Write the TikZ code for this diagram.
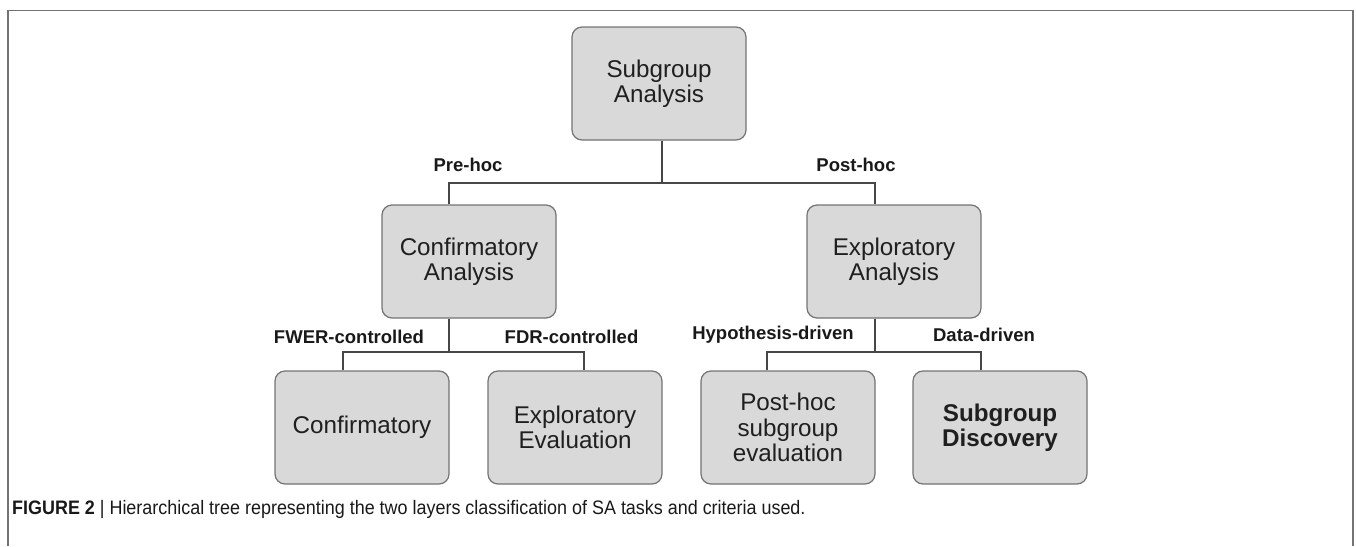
\documentclass[tikz,border=0pt]{standalone}
\usepackage{fontspec}
\setmainfont{Liberation Sans}
\newfontfamily\capfont[FakeStretch=0.92]{Liberation Sans}
\begin{document}
\begin{tikzpicture}[x=1pt,y=-1pt,
  box/.style={draw=black!55,line width=1.2pt,fill=black!15,rounded corners=10pt,
    minimum width=174pt,minimum height=113pt,align=center,text=black!88,
    font=\fontsize{24.2}{25.5}\selectfont,inner sep=0pt},
  conn/.style={draw=black!72,line width=2.4pt},
  lab/.style={font=\fontsize{18.5}{20}\selectfont\bfseries,text=black!90,inner sep=0pt},
  frame/.style={draw=black!55,line width=1.5pt}]
\useasboundingbox (0,0) rectangle (1356,546);
% frame
\draw[frame] (8,546) -- (8,10.5) -- (1353,10.5) -- (1353,546);
% nodes
\node[box] (SA) at (659,83.5) {Subgroup\\Analysis};
\node[box] (CA) at (469,261.5) {Confirmatory\\Analysis};
\node[box] (EA) at (894,261.5) {Exploratory\\Analysis};
\node[box] (C)  at (362,427.5) {Confirmatory};
\node[box] (EE) at (575,427.5) {Exploratory\\Evaluation};
\node[box] (PH) at (788,427.5) {Post-hoc\\subgroup\\evaluation};
\node[box] (SD) at (1000,427.5) {\bfseries Subgroup\\\bfseries Discovery};
% bus coordinates
\coordinate (j0) at (662,183);
\coordinate (xCA) at (449,0);
\coordinate (xEA) at (875,0);
\coordinate (j1) at (449,352);
\coordinate (j2) at (875,352);
\coordinate (xC) at (343,0);
\coordinate (xEE) at (584,0);
\coordinate (xPH) at (767,0);
\coordinate (xSD) at (981,0);
% connectors
\draw[conn] (SA.south -| j0) -- (j0);
\draw[conn] (CA.north -| xCA) -- (xCA |- j0) -- (xEA |- j0) -- (EA.north -| xEA);
\draw[conn] (CA.south -| xCA) -- (j1);
\draw[conn] (C.north -| xC) -- (xC |- j1) -- (xEE |- j1) -- (EE.north -| xEE);
\draw[conn] (EA.south -| xEA) -- (j2);
\draw[conn] (PH.north -| xPH) -- (xPH |- j2) -- (xSD |- j2) -- (SD.north -| xSD);
% labels
\node[lab] (l1) at (468,165) {Pre-hoc};
\node[lab] (l2) at (856,165) {Post-hoc};
\node[lab] (l3) at (349,337) {FWER-controlled};
\node[lab] (l4) at (571.5,337) {FDR-controlled};
\node[lab] (l5) at (773,335) {Hypothesis-driven};
\node[lab] (l6) at (984,335) {Data-driven};
% caption
\node[anchor=west,inner sep=0pt,font=\capfont\fontsize{19.5}{21}\selectfont,text=black!90] (cap) at (12,509)
  {\textbf{FIGURE 2} | Hierarchical tree representing the two layers classification of SA tasks and criteria used.};
\end{tikzpicture}
\end{document}
